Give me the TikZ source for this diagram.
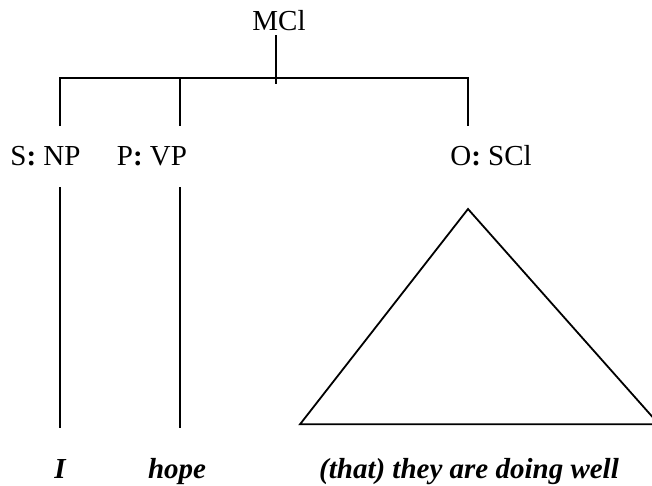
\documentclass[tikz,border=0pt]{standalone}
\usepackage{fontspec}
\setmainfont{Liberation Serif}
\begin{document}
\begin{tikzpicture}[x=1pt,y=-1pt,
  lbl/.style={inner sep=0pt,anchor=base,font=\fontsize{29}{34}\selectfont},
  word/.style={lbl,font=\fontsize{29}{34}\selectfont\bfseries\itshape},
  branch/.style={line width=1.8pt,line cap=butt}]
\useasboundingbox (0,0) rectangle (652,485);

% category labels (function: category)
\node[lbl] (mcl) at (279,30.7) {MCl};
\node[lbl] (snp) at (45.5,165.7) {S\textbf{:} NP};
\node[lbl] (pvp) at (152,165.7) {P\textbf{:} VP};
\node[lbl] (oscl) at (491,165.7) {O\textbf{:} SCl};

% words
\node[word] (wI) at (60,478) {I};
\node[word] (whope) at (177,478) {hope};
\node[word] (wthat) at (469,478) {(that) they are doing well};

% junction points of the bracket
\coordinate (stemtop) at (276,35);
\coordinate (stembot) at (276,84);
\coordinate (barL) at (60,77.7);
\coordinate (barP) at (180,77.7);
\coordinate (barR) at (468,77.7);
\coordinate (dropS) at (60,126);
\coordinate (dropP) at (180,126);
\coordinate (dropO) at (468,126);
\coordinate (upS) at (60,187);
\coordinate (upP) at (180,187);
\coordinate (endS) at (60,428);
\coordinate (endP) at (180,428);

% triangle corners
\coordinate (apex) at (468,209);
\coordinate (baseL) at (300,424.3);
\coordinate (baseR) at (659,424.3);

\draw[branch] (stemtop) -- (stembot);
\draw[branch] (dropS) -- (barL) -- (barR) -- (dropO);
\draw[branch] (barP) -- (dropP);
\draw[branch] (upS) -- (endS);
\draw[branch] (upP) -- (endP);
\draw[branch,line join=miter] (apex) -- (baseL) -- (baseR) -- cycle;
\end{tikzpicture}
\end{document}
